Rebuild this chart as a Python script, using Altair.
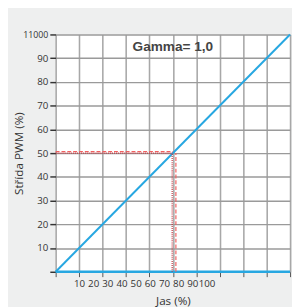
import altair as alt
import pandas as pd

# ---- data ----
jas = [0, 100]            # Jas (%)
strida = [0, 100]         # Střída PWM (%)
grid_ticks = [0, 10, 20, 30, 40, 50, 60, 70, 80, 90, 100]
x_label_values = [10, 20, 30, 40, 50, 60, 70, 80, 90, 100]
ref_x = [49.7, 51.3]      # red vertical guides
ref_y = [50, 50.6]        # red horizontal guides
gamma_text = ["Gamma= 1,0"]
gamma_pos = [50, 94.6]

line_df = pd.DataFrame({"jas": jas, "strida": strida})
base_df = pd.DataFrame({"jas": [0], "jas2": [100], "strida": [0]})
hred_df = pd.DataFrame({"jas": [0, 0], "jas2": [50, 50], "strida": ref_y, "k": ["a", "b"]})
vred_df = pd.DataFrame({"jas": ref_x, "strida": [0, 0], "strida2": [50, 50], "k": ["a", "b"]})
text_df = pd.DataFrame({"jas": [gamma_pos[0]], "strida": [gamma_pos[1]], "t": gamma_text})
lab_df = pd.DataFrame({"v": x_label_values})

x_main = alt.X(
    "jas:Q",
    scale=alt.Scale(domain=[0, 100], nice=False),
    axis=alt.Axis(
        values=grid_ticks, labels=False, tickSize=5, tickColor="#555",
        grid=True, gridColor="#a8a8a8", gridWidth=1.6, domain=False,
        labelOverlap=False,
        title="Jas (%)", titlePadding=19, titleFontSize=12,
        titleFontWeight="normal", titleColor="#333", titleFont="Open Sans",
    ),
)
y_main = alt.Y(
    "strida:Q",
    scale=alt.Scale(domain=[0, 100], nice=False),
    axis=alt.Axis(
        values=grid_ticks,
        labelExpr="datum.value == 0 ? '' : datum.value == 100 ? '11000' : datum.label",
        labelFontSize={"condition": {"test": "datum.value == 100", "value": 9}, "value": 10},
        labelColor="#333", labelFont="Open Sans", tickSize=6, tickColor="#333",
        tickWidth=1.5, labelPadding=2, labelOverlap=False,
        grid=True, gridColor="#9a9a9a", gridWidth=1.5, domain=False,
        title="Střída PWM (%)", titleFontSize=12, titleFontWeight="normal",
        titleColor="#333", titleFont="Open Sans", titleX=-31, titleY=122,
    ),
)

line = alt.Chart(line_df).mark_line(color="#27a7e1", strokeWidth=2).encode(x=x_main, y=y_main)
baseline = alt.Chart(base_df).mark_rule(color="#27a7e1", strokeWidth=2.5).encode(
    x=x_main, x2="jas2:Q", y=y_main)
hred = alt.Chart(hred_df).mark_rule(strokeWidth=1.2).encode(
    x=x_main, x2="jas2:Q", y=y_main,
    color=alt.Color("k:N", scale=alt.Scale(domain=["a", "b"], range=["#c0303a", "#f06060"]), legend=None),
    strokeDash=alt.StrokeDash("k:N", scale=alt.Scale(domain=["a", "b"], range=[[1, 1], [4, 2]]), legend=None),
)
vred = alt.Chart(vred_df).mark_rule(strokeWidth=1.2).encode(
    x=x_main, y=y_main, y2="strida2:Q",
    color=alt.Color("k:N", legend=None),
    strokeDash=alt.StrokeDash("k:N", legend=None),
)
gamma = alt.Chart(text_df).mark_text(
    font="Liberation Sans", fontSize=14, fontWeight="bold", color="#444"
).encode(x=x_main, y=y_main, text="t:N")

main = alt.layer(line, baseline, hred, vred, gamma)

labels = alt.Chart(lab_df).mark_point(opacity=0).encode(
    x=alt.X("v:Q", scale=alt.Scale(domain=[-6.5, 159], nice=False, zero=False),
            axis=alt.Axis(values=x_label_values, orient="bottom", ticks=False, domain=False,
                          grid=False, labelPadding=7, labelFontSize=10, labelColor="#333",
                          labelFont="Open Sans", title=None, labelOverlap=False))
)

chart = alt.layer(main, labels).resolve_scale(x="independent").properties(
    width=241, height=244,
    autosize=alt.AutoSizeParams(type="none"),
    padding={"left": 49, "top": 23, "right": 2, "bottom": 32},
).configure(background="#eeefef").configure_view(fill="white", stroke=None)

chart.save("out.html", embed_options={"renderer": "svg", "actions": False})
